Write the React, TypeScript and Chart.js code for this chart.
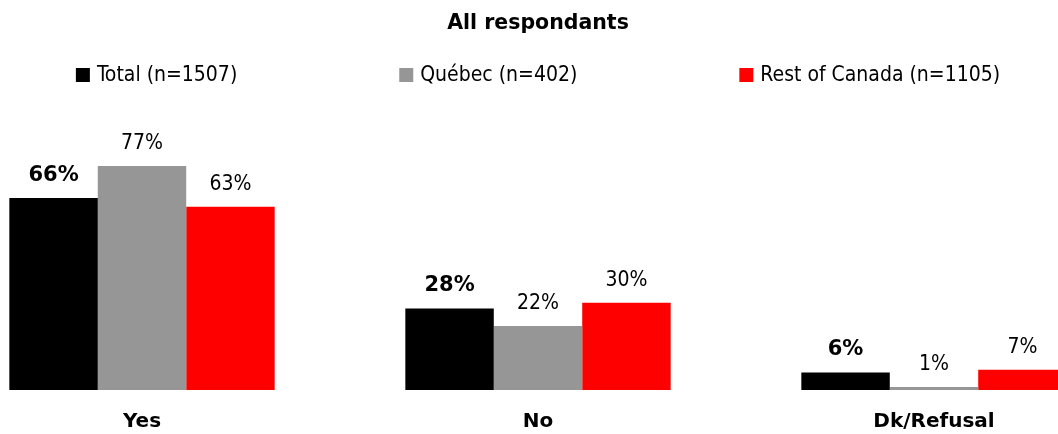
import React, { useEffect, useRef } from "react";
import { Chart, registerables } from "chart.js";

Chart.register(...registerables);

const categories = ["Yes", "No", "Dk/Refusal"];
const seriesNames = ["Total (n=1507)", "Québec (n=402)", "Rest of Canada (n=1105)"];
const totalValues = [66, 28, 6];
const quebecValues = [77, 22, 1];
const restValues = [63, 30, 7];
const seriesColors = ["#000000", "#969696", "#FF0000"];
const boldValueLabels = [true, false, false];
const titleText = "All respondants";

const FONT = '"DejaVu Sans Condensed", "DejaVu Sans", sans-serif';
const BOLD_FONT = '"DejaVu Sans", sans-serif';
const SIZE = 21;

const legendPlugin = {
  id: "customLegend",
  afterDraw(chart: any) {
    const ctx = chart.ctx;
    ctx.save();
    ctx.font = `${SIZE}px ${FONT}`;
    const box = 14;
    const gapText = 7;
    const gapItem = 162;
    const dss = chart.data.datasets;
    const widths = dss.map((ds: any) => box + gapText + ctx.measureText(ds.label).width);
    const total = widths.reduce((a: number, b: number) => a + b, 0) + gapItem * (widths.length - 1);
    let x = chart.width / 2 - total / 2;
    const y = 75;
    dss.forEach((ds: any, i: number) => {
      ctx.fillStyle = ds.backgroundColor;
      ctx.fillRect(x, y - box / 2, box, box);
      ctx.fillStyle = "#000";
      ctx.textAlign = "left";
      ctx.textBaseline = "middle";
      ctx.fillText(ds.label, x + box + gapText, y + 1);
      x += widths[i] + gapItem;
    });
    ctx.restore();
  },
};

const valueLabelPlugin = {
  id: "valueLabels",
  afterDatasetsDraw(chart: any) {
    const ctx = chart.ctx;
    ctx.save();
    ctx.textAlign = "center";
    ctx.textBaseline = "middle";
    ctx.fillStyle = "#000";
    chart.data.datasets.forEach((ds: any, i: number) => {
      const meta = chart.getDatasetMeta(i);
      ctx.font = boldValueLabels[i] ? `bold ${SIZE}px ${BOLD_FONT}` : `${SIZE}px ${FONT}`;
      meta.data.forEach((bar: any, j: number) => {
        ctx.fillText(`${ds.data[j]}%`, bar.x, bar.y - 22.5);
      });
    });
    ctx.restore();
  },
};

export default function App() {
  const canvasRef = useRef<HTMLCanvasElement | null>(null);

  useEffect(() => {
    if (!canvasRef.current) return;
    const values = [totalValues, quebecValues, restValues];
    const chart = new Chart(canvasRef.current, {
      type: "bar",
      data: {
        labels: categories,
        datasets: seriesNames.map((name, i) => ({
          label: name,
          data: values[i],
          backgroundColor: seriesColors[i],
          borderWidth: 0,
          categoryPercentage: 0.67,
          barPercentage: 1.0,
        })),
      },
      options: {
        animation: false,
        responsive: true,
        maintainAspectRatio: false,
        layout: { padding: 0 },
        plugins: {
          legend: { display: false },
          tooltip: { enabled: false },
          title: {
            display: true,
            text: titleText,
            color: "#000",
            font: { family: BOLD_FONT, size: 20.5, weight: "bold", lineHeight: 1.2 },
            padding: { top: 11, bottom: 63.4 },
          },
        },
        scales: {
          x: {
            grid: { display: false, drawTicks: false },
            border: { display: false },
            afterFit: (scale: any) => {
              scale.height = 44;
            },
            ticks: {
              color: "#000",
              padding: 20,
              font: { family: BOLD_FONT, size: 20, weight: "bold", lineHeight: 1.2 },
            },
          },
          y: {
            display: false,
            min: 0,
            max: 100,
          },
        },
      },
      plugins: [legendPlugin, valueLabelPlugin],
    });
    return () => chart.destroy();
  }, []);

  return (
    <div
      style={{
        position: "absolute",
        left: 0,
        top: 0,
        width: 1058,
        height: 434,
        overflow: "hidden",
        background: "#fff",
      }}
    >
      <div style={{ position: "absolute", left: -56, top: 0, width: 1188, height: 434 }}>
        <canvas ref={canvasRef} />
      </div>
    </div>
  );
}
